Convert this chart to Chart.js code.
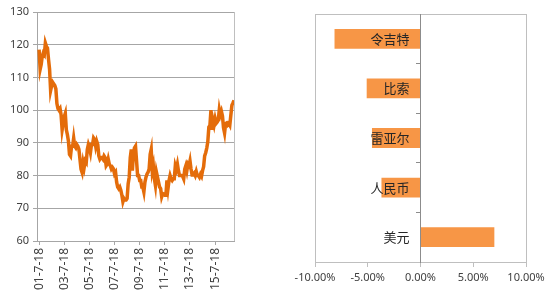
<!DOCTYPE html>
<html>
<head>
<meta charset="utf-8">
<script src="https://cdn.jsdelivr.net/npm/chart.js@4"></script>
<style>
  body { margin: 0; background: #fff; width: 550px; height: 300px; position: relative; overflow: hidden; }
  #left { position: absolute; left: 0; top: 0; width: 245px; height: 300px; }
  #right { position: absolute; left: 290px; top: 0; width: 260px; height: 300px; }
</style>
</head>
<body>
<div id="left"><canvas id="lineChart"></canvas></div>
<div id="right"><canvas id="barChart"></canvas></div>
<script>
// US dollar index, monthly, Jul 2001 .. Jan 2017 (month 0 = Jul 2001)
const dxyValues = [
  118.5, 112.5, 114, 116.5, 117.5, 117,
  120.5, 119.5, 119, 115.5, 112.5, 106, 107.5, 108.5, 108, 107.5, 106.5, 102,
  100.5, 100, 100.5, 98.5, 94, 96, 98, 99, 94, 92.5, 90.5, 86.5,
  86, 89, 89, 91.5, 89, 88.5, 89.5, 89, 88, 85, 82, 81,
  84, 82.5, 84.5, 84, 88, 89.5, 88.5, 87, 89.5, 89.5, 91.5, 91,
  89, 90.5, 89.5, 86, 85, 85.5, 85.5, 85, 86, 85.5, 83, 83.5,
  85, 83.5, 83, 82, 82.5, 82, 80.5, 81, 78, 76.5, 76, 76.5,
  75.5, 74, 72, 73, 72.5, 72.5, 73, 77.5, 79.5, 85.5, 88, 81.5,
  86.5, 88.5, 89, 84.5, 80, 80, 78.5, 78.5, 76.5, 76.5, 75, 78,
  79.5, 80.5, 81, 82, 86.5, 88, 81.5, 83, 79, 77, 81, 79.5,
  78, 76.5, 76, 73.5, 74.5, 74.3, 74, 74, 78.5, 76, 78.5, 80,
  79, 78.5, 79, 79, 83, 82, 83.5, 81.5, 80, 80, 80, 79.8,
  79, 82, 83, 81.5, 83.5, 83, 84.5, 82, 80.2, 80.2, 80.7, 80,
  81.2, 80, 80, 79.5, 80.4, 79.8, 81.5, 82.7, 86, 87, 88.4, 90.3,
  94.8, 95.3, 100, 94, 96.9, 95.5, 97.4, 96, 96.4, 97, 100.2, 98.6,
  99.6, 98.2, 94.6, 93, 95.9, 96.1, 95.5, 96, 95.4, 98.5, 101.5, 102.2,
  103
];
const tickMonths = [0, 24, 48, 72, 96, 120, 144, 168];
const tickLabels = ['01-7-18', '03-7-18', '05-7-18', '07-7-18', '09-7-18', '11-7-18', '13-7-18', '15-7-18'];

// currency changes, %
const currencies = ['令吉特', '比索', '雷亚尔', '人民币', '美元'];
const changes = [-8.15, -5.1, -4.6, -3.7, 7.0];

const tickFont = { family: 'Noto Sans', size: 11 };
const textColor = '#404040';

const rightEdge = {
  id: 'rightEdge',
  beforeDatasetsDraw(chart) {
    const { ctx, chartArea } = chart;
    ctx.save();
    ctx.strokeStyle = '#BFBFBF';
    ctx.lineWidth = 1;
    ctx.beginPath();
    ctx.moveTo(Math.round(chartArea.right) + 0.5, chartArea.top);
    ctx.lineTo(Math.round(chartArea.right) + 0.5, chartArea.bottom);
    ctx.stroke();
    ctx.restore();
  }
};

const frame = {
  id: 'frame',
  beforeDatasetsDraw(chart) {
    const { ctx, chartArea } = chart;
    ctx.save();
    ctx.strokeStyle = '#BFBFBF';
    ctx.lineWidth = 1;
    ctx.strokeRect(Math.round(chartArea.left) + 0.5, Math.round(chartArea.top) + 0.5,
      Math.round(chartArea.right - chartArea.left), Math.round(chartArea.bottom - chartArea.top));
    ctx.restore();
  }
};

new Chart(document.getElementById('lineChart'), {
  type: 'line',
  data: {
    datasets: [{
      data: dxyValues.map((v, i) => ({ x: i, y: v })),
      borderColor: '#E46C0A',
      borderWidth: 3.5,
      pointRadius: 0,
      tension: 0
    }]
  },
  options: {
    animation: false,
    responsive: true,
    maintainAspectRatio: false,
    layout: { padding: { top: 12, right: 11, left: 0, bottom: 0 } },
    plugins: { legend: { display: false }, tooltip: { enabled: false } },
    scales: {
      x: {
        type: 'linear',
        min: -2,
        max: 186,
        afterBuildTicks: axis => { axis.ticks = tickMonths.map(v => ({ value: v })); },
        afterFit: axis => { axis.height = 59; },
        ticks: {
          autoSkip: false,
          minRotation: 90,
          maxRotation: 90,
          padding: 3,
          font: { family: 'Noto Sans', size: 12 },
          color: textColor,
          callback: v => tickLabels[tickMonths.indexOf(v)]
        },
        grid: { drawOnChartArea: false, tickLength: 4, color: '#A6A6A6' },
        border: { color: '#A6A6A6' }
      },
      y: {
        min: 60,
        max: 130,
        afterFit: axis => { axis.width = 37; },
        ticks: { stepSize: 10, padding: 4, font: tickFont, color: textColor },
        grid: { color: '#A6A6A6', tickLength: 4 },
        border: { color: '#A6A6A6' }
      }
    }
  },
  plugins: [rightEdge]
});

new Chart(document.getElementById('barChart'), {
  type: 'bar',
  data: {
    labels: currencies,
    datasets: [{
      data: changes,
      backgroundColor: '#F79646',
      barPercentage: 0.4,
      categoryPercentage: 1,
      yAxisID: 'y'
    }]
  },
  options: {
    indexAxis: 'y',
    animation: false,
    responsive: true,
    maintainAspectRatio: false,
    layout: { padding: { top: 14, left: 25, right: 24, bottom: 0 } },
    plugins: { legend: { display: false }, tooltip: { enabled: false } },
    scales: {
      x: {
        min: -10,
        max: 10,
        afterFit: axis => { axis.height = 38; },
        ticks: {
          stepSize: 5,
          padding: 4,
          font: { family: 'Noto Sans', size: 11 },
          color: textColor,
          callback: v => v.toFixed(2) + '%'
        },
        grid: { drawOnChartArea: false, tickLength: 5, color: '#BFBFBF' },
        border: { color: '#BFBFBF' }
      },
      // zero line with the short category ticks
      y: {
        type: 'category',
        offset: true,
        position: { x: 0 },
        ticks: { display: false },
        grid: { drawOnChartArea: false, offset: true, tickLength: 4, color: '#8C8C8C' },
        border: { color: '#8C8C8C', z: 1 }
      },
      // category names, sitting just left of the zero line, over the bars
      yLabels: {
        type: 'category',
        axis: 'y',
        offset: true,
        position: { x: -1.05 },
        grid: { display: false },
        border: { display: false },
        ticks: { z: 1, font: { family: 'Noto Sans CJK SC', size: 13 }, color: '#262626' }
      }
    }
  },
  plugins: [frame]
});
</script>
</body>
</html>
